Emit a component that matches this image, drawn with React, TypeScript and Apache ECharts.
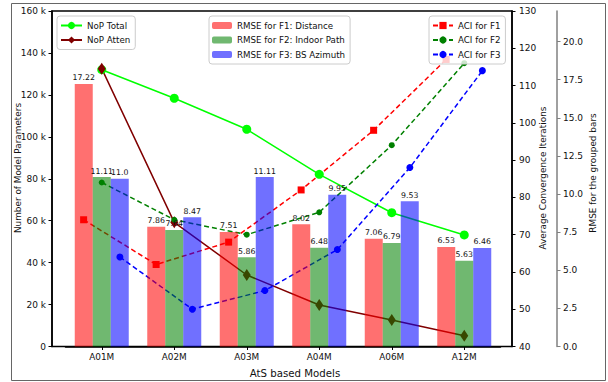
import React, { useEffect, useRef } from "react";
import * as echarts from "echarts";

const categories = ["A01M", "A02M", "A03M", "A04M", "A06M", "A12M"];
const nopTotal = [132000, 118400, 103600, 82100, 63800, 53200];
const nopAtten = [132500, 59200, 34100, 19800, 12600, 5100];
const rmseF1 = [17.22, 7.86, 7.51, 8.02, 7.06, 6.53];
const rmseF2 = [11.11, 7.64, 5.86, 6.48, 6.79, 5.63];
const rmseF3 = [11.0, 8.47, 11.11, 9.95, 9.53, 6.46];
const aciF1 = [74, 62, 68, 82, 98, 117];
const aciF2 = [84, 74, 70, 76, 94, 116];
const aciF3 = [64, 50, 55, 66, 88, 114];
const rmseTicks = [0, 2.5, 5, 7.5, 10, 12.5, 15, 17.5, 20];

const FONT = "DejaVu Sans";
const TXT = "#111";

export default function App() {
  const ref = useRef<HTMLDivElement>(null);
  useEffect(() => {
    if (!ref.current) return;
    const chart = echarts.init(ref.current, undefined, { renderer: "svg" });
    const fmtBar = (p: any) => {
      const v = p.value as number;
      return Number.isInteger(v) ? v.toFixed(1) : String(v);
    };
    const barLabel = {
      show: true,
      position: "top",
      distance: 2,
      fontSize: 7.8,
      fontFamily: FONT,
      color: TXT,
      formatter: fmtBar,
    };
    const legendCommon = {
      orient: "vertical",
      backgroundColor: "rgba(255,255,255,0.8)",
      borderColor: "#ccc",
      borderWidth: 1,
      borderRadius: 3,
      itemWidth: 20,
      itemHeight: 9,
      itemGap: 5.5,
      selectedMode: false,
      padding: [5, 5, 5, 3],
      textStyle: { fontSize: 8.7, fontFamily: FONT, color: TXT },
    };
    const aciOffsets = [-0.25, 0, 0.25];
    const toXY = (arr: number[], k: number) => arr.map((v, i) => [i + aciOffsets[k], v]);
    const option: any = {
      animation: false,
      textStyle: { fontFamily: FONT },
      grid: [
        { left: 52, right: 96, top: 11, bottom: 35.5, show: true, borderColor: "#000", borderWidth: 1.5, backgroundColor: "transparent" },
        { left: 65.5, right: 107.5, top: 11, bottom: 35.5 },
      ],
      xAxis: [
        { type: "value", gridIndex: 0, min: 0, max: 1, show: false },
        {
          type: "category",
          gridIndex: 1,
          data: categories,
          boundaryGap: true,
          axisLine: { show: true, lineStyle: { color: "#000", width: 1.5 } },
          axisTick: { show: true, alignWithLabel: true, length: 3.5, lineStyle: { color: "#000", width: 1 } },
          axisLabel: { fontSize: 8.9, fontFamily: FONT, color: TXT, margin: 6 },
        },
        { type: "value", gridIndex: 1, min: -0.5, max: 5.5, show: false, position: "top" },
      ],
      yAxis: [
        {
          type: "value",
          gridIndex: 0,
          position: "left",
          min: 0,
          max: 160000,
          interval: 20000,
          splitLine: { show: false },
          axisLine: { show: true, lineStyle: { color: "#000", width: 1.5 } },
          axisTick: { show: true, length: 3.5, lineStyle: { color: "#000" } },
          axisLabel: {
            fontSize: 9,
            fontFamily: FONT,
            color: TXT,
            margin: 6,
            formatter: (v: number) => (v === 0 ? "0" : v / 1000 + " k"),
          },
        },
        {
          type: "value",
          gridIndex: 0,
          position: "right",
          min: 40,
          max: 130,
          interval: 10,
          splitLine: { show: false },
          axisLine: { show: true, lineStyle: { color: "#000", width: 1.5 } },
          axisTick: { show: true, length: 3.5, lineStyle: { color: "#000" } },
          axisLabel: { fontSize: 9, fontFamily: FONT, color: TXT, margin: 7 },
        },
        {
          type: "value",
          gridIndex: 0,
          position: "right",
          offset: 45,
          min: 0,
          max: 22,
          splitLine: { show: false },
          axisLine: { show: true, lineStyle: { color: "#808080", width: 1.5 } },
          axisTick: { show: true, length: 3.5, lineStyle: { color: "#808080" }, customValues: rmseTicks },
          axisLabel: {
            fontSize: 9,
            fontFamily: FONT,
            color: TXT,
            margin: 6,
            customValues: rmseTicks,
            formatter: (v: number) => v.toFixed(1),
          },
        },
        { type: "value", gridIndex: 1, min: 0, max: 160000, show: false, splitLine: { show: false } },
        { type: "value", gridIndex: 1, min: 40, max: 130, show: false, splitLine: { show: false } },
        { type: "value", gridIndex: 1, min: 0, max: 22, show: false, splitLine: { show: false } },
      ],
      legend: [
        { ...legendCommon, left: 57, top: 16, itemWidth: 21, data: ["NoP Total", "NoP Atten"] },
        {
          ...legendCommon,
          left: 209,
          top: 16,
          itemHeight: 7,
          data: ["RMSE for F1: Distance", "RMSE for F2: Indoor Path", "RMSE for F3: BS Azimuth"],
        },
        { ...legendCommon, left: 429, top: 16, data: ["ACI for F1", "ACI for F2", "ACI for F3"] },
      ],
      series: [
        {
          name: "NoP Total",
          type: "line",
          xAxisIndex: 1,
          yAxisIndex: 3,
          data: nopTotal,
          z: 2,
          symbol: "circle",
          symbolSize: 9,
          lineStyle: { color: "#00ff00", width: 1.5 },
          itemStyle: { color: "#00ff00" },
        },
        {
          name: "NoP Atten",
          type: "line",
          xAxisIndex: 1,
          yAxisIndex: 3,
          data: nopAtten,
          z: 2,
          symbol: "diamond",
          symbolSize: [8, 12],
          lineStyle: { color: "#800000", width: 1.5 },
          itemStyle: { color: "#800000" },
        },
        {
          name: "ACI for F1",
          type: "line",
          xAxisIndex: 2,
          yAxisIndex: 4,
          data: toXY(aciF1, 0),
          z: 2,
          symbol: "rect",
          symbolSize: 7,
          lineStyle: { color: "#ff0000", width: 1.5, type: [5, 3] },
          itemStyle: { color: "#ff0000" },
        },
        {
          name: "ACI for F2",
          type: "line",
          xAxisIndex: 2,
          yAxisIndex: 4,
          data: toXY(aciF2, 1),
          z: 2,
          symbol: "circle",
          symbolSize: 6,
          lineStyle: { color: "#008000", width: 1.5, type: [5, 3] },
          itemStyle: { color: "#008000" },
        },
        {
          name: "ACI for F3",
          type: "line",
          xAxisIndex: 2,
          yAxisIndex: 4,
          data: toXY(aciF3, 2),
          z: 2,
          symbol: "circle",
          symbolSize: 7,
          lineStyle: { color: "#0000ff", width: 1.5, type: [5, 3] },
          itemStyle: { color: "#0000ff" },
        },
        {
          name: "RMSE for F1: Distance",
          type: "bar",
          xAxisIndex: 1,
          yAxisIndex: 5,
          data: rmseF1,
          z: 3,
          barWidth: 18,
          barGap: "0%",
          itemStyle: { color: "rgba(255,0,0,0.56)" },
          label: barLabel,
        },
        {
          name: "RMSE for F2: Indoor Path",
          type: "bar",
          xAxisIndex: 1,
          yAxisIndex: 5,
          data: rmseF2,
          z: 3,
          barWidth: 18,
          barGap: "0%",
          itemStyle: { color: "rgba(0,128,0,0.56)" },
          label: barLabel,
        },
        {
          name: "RMSE for F3: BS Azimuth",
          type: "bar",
          xAxisIndex: 1,
          yAxisIndex: 5,
          data: rmseF3,
          z: 3,
          barWidth: 18,
          barGap: "0%",
          itemStyle: { color: "rgba(0,0,255,0.56)" },
          label: barLabel,
        },
      ],
      graphic: [
        {
          type: "rect",
          shape: { x: 11.5, y: 3.5, width: 594, height: 377 },
          style: { fill: "none", stroke: "#666", lineWidth: 1 },
          silent: true,
        },
        {
          type: "text",
          x: 295,
          y: 373,
          style: { text: "AtS based Models", font: `10.2px ${FONT}`, fill: TXT, textAlign: "center", textVerticalAlign: "middle" },
        },
        {
          type: "text",
          x: 17.5,
          y: 168,
          rotation: Math.PI / 2,
          style: { text: "Number of Model Parameters", font: `8.9px ${FONT}`, fill: TXT, textAlign: "center", textVerticalAlign: "middle" },
        },
        {
          type: "text",
          x: 543,
          y: 178,
          rotation: Math.PI / 2,
          style: { text: "Average Convergence Iterations", font: `8.9px ${FONT}`, fill: TXT, textAlign: "center", textVerticalAlign: "middle" },
        },
        {
          type: "text",
          x: 593,
          y: 173,
          rotation: Math.PI / 2,
          style: { text: "RMSE for the grouped bars", font: `8.9px ${FONT}`, fill: TXT, textAlign: "center", textVerticalAlign: "middle" },
        },
      ],
    };
    chart.setOption(option);
    return () => chart.dispose();
  }, []);
  return <div ref={ref} style={{ position: "fixed", left: 0, top: 0, width: 608, height: 382, background: "#fff" }} />;
}
